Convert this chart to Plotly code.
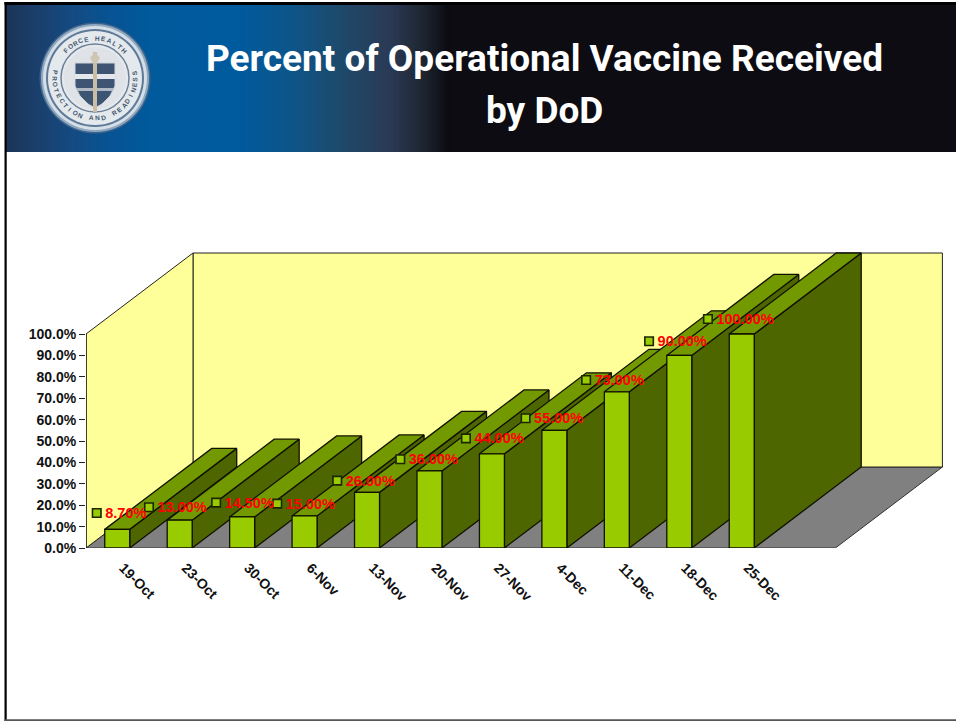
import math
import plotly.graph_objects as go

# ---- chart data ----
categories = ["19-Oct", "23-Oct", "30-Oct", "6-Nov", "13-Nov", "20-Nov",
              "27-Nov", "4-Dec", "11-Dec", "18-Dec", "25-Dec"]
values = [8.7, 13, 14.5, 15, 26, 36, 44, 55, 73, 90, 100]
value_labels = ["8.70%", "13.00%", "14.50%", "15.00%", "26.00%", "36.00%",
                "44.00%", "55.00%", "73.00%", "90.00%", "100.00%"]
y_ticks = [0, 10, 20, 30, 40, 50, 60, 70, 80, 90, 100]
y_tick_labels = ["0.0%", "10.0%", "20.0%", "30.0%", "40.0%", "50.0%",
                 "60.0%", "70.0%", "80.0%", "90.0%", "100.0%"]
title_lines = ["Percent of Operational Vaccine Received", "by DoD"]

# ---- layout constants ----
W, H = 956, 721
PLOT_L, PLOT_B, PLOT_T = 86, 548, 240
PX_PER_CAT = 62.45
PX_PER_PCT = 2.14
SLOTS = 12                     # the axis has one empty slot at the right
DEPTH_X = 107 / PX_PER_CAT     # oblique depth of the 3-D box, in axis units
DEPTH_Y = 81 / PX_PER_PCT
BAR_W = 0.4
# hand-placed data labels: shift from the bar's top-centre, in pixels
label_dx = [-20.5, -30.7, -26, -27.3, -29.8, -29.2, -26, -28.8, -30.7, -30.2, -33.8]
label_dy = [-16.4, -12.9, -14.3, -12.3, -11.7, -11.7, -15.5, -12, -11.8, -14.1, -15]
TEXT_GAP_X, TEXT_GAP_Y = 8.5, 1.5   # label text relative to its marker, pixels

FRONT, TOP, SIDE = "#99CC00", "#739900", "#4D6600"
WALL, FLOOR = "#FFFF99", "#808080"
EDGE = "#111100"
SANS = "Liberation Sans, Arial, sans-serif"
TITLE_FONT = "Roboto, Liberation Sans, Arial, sans-serif"

x0 = -0.5
x_span = (W - PLOT_L) / PX_PER_CAT
y_span = (PLOT_B - PLOT_T) / PX_PER_PCT
fig = go.Figure()


def poly(xs, ys, fill, edge=EDGE, lw=1.3):
    fig.add_trace(go.Scatter(x=xs + xs[:1], y=ys + ys[:1], mode="lines", fill="toself",
                             fillcolor=fill, line=dict(color=edge, width=lw),
                             hoverinfo="skip", showlegend=False, xaxis="x", yaxis="y"))


x_end = x0 + SLOTS
# floor, back wall, side wall
poly([x0, x_end, x_end + DEPTH_X, x0 + DEPTH_X], [0, 0, DEPTH_Y, DEPTH_Y], FLOOR, "#333333", 1)
poly([x0 + DEPTH_X, x_end + DEPTH_X, x_end + DEPTH_X, x0 + DEPTH_X],
     [DEPTH_Y, DEPTH_Y, 100 + DEPTH_Y, 100 + DEPTH_Y], WALL, "#222222", 1)
poly([x0, x0 + DEPTH_X, x0 + DEPTH_X, x0], [0, DEPTH_Y, 100 + DEPTH_Y, 100], WALL, "#222222", 1)

# side and top faces of each bar, painted left to right
for i, v in enumerate(values):
    l, r = i - BAR_W / 2, i + BAR_W / 2
    poly([r, r + DEPTH_X, r + DEPTH_X, r], [0, DEPTH_Y, v + DEPTH_Y, v], SIDE)
    poly([l, r, r + DEPTH_X, l + DEPTH_X], [v, v, v + DEPTH_Y, v + DEPTH_Y], TOP)

# value axis line
fig.add_trace(go.Scatter(x=[x0, x0], y=[0, 100], mode="lines", cliponaxis=False,
                         line=dict(color="#222222", width=1.5), hoverinfo="skip", showlegend=False))

# data markers
marker_x = [i + dx / PX_PER_CAT for i, dx in enumerate(label_dx)]
marker_y = [v - dy / PX_PER_PCT for v, dy in zip(values, label_dy)]
fig.add_trace(go.Scatter(
    x=marker_x, y=marker_y, mode="markers",
    marker=dict(symbol="square", size=8.5, color=FRONT, line=dict(color="#1c2600", width=1.6)),
    cliponaxis=False, hoverinfo="skip", showlegend=False))
# data labels
fig.add_trace(go.Scatter(
    x=[x + TEXT_GAP_X / PX_PER_CAT for x in marker_x],
    y=[y - TEXT_GAP_Y / PX_PER_PCT for y in marker_y],
    mode="text", text=value_labels, textposition="middle right",
    textfont=dict(family=SANS, size=14.5, color="#FF0000", weight="bold"),
    cliponaxis=False, hoverinfo="skip", showlegend=False))

# bar fronts (overlaid so they sit above every side face)
fig.add_trace(go.Bar(x=list(range(len(values))), y=values, width=BAR_W,
                     marker=dict(color=FRONT, line=dict(color=EDGE, width=1.3)),
                     hoverinfo="skip", showlegend=False, xaxis="x2", yaxis="y2"))


# ---- page furniture in page pixels ----
def px(x):
    return (x - PLOT_L) / (W - PLOT_L)


def py(y):
    return (PLOT_B - y) / (PLOT_B - PLOT_T)


shapes = []


def rect(x1, y1, x2, y2, color):
    shapes.append(dict(type="rect", xref="paper", yref="paper", x0=px(x1), x1=px(x2),
                       y0=py(y1), y1=py(y2), fillcolor=color, line=dict(width=0), layer="below"))


def circle(cx, cy, r, fill, edge=None, lw=0):
    shapes.append(dict(type="circle", xref="paper", yref="paper", x0=px(cx - r), x1=px(cx + r),
                       y0=py(cy + r), y1=py(cy - r), fillcolor=fill,
                       line=dict(width=lw, color=edge or fill), layer="below"))


def path(points, fill, edge=None, lw=0):
    d = "M " + " L ".join(f"{px(a):.5f},{py(b):.5f}" for a, b in points) + " Z"
    shapes.append(dict(type="path", xref="paper", yref="paper", path=d, fillcolor=fill,
                       line=dict(width=lw, color=edge or fill), layer="below"))


# header gradient
stops = [(6, (27, 52, 86)), (35, (27, 62, 106)), (70, (20, 74, 128)), (105, (8, 82, 146)),
         (150, (0, 90, 156)), (235, (0, 90, 158)), (290, (12, 85, 138)), (330, (26, 76, 112)),
         (390, (42, 58, 85)), (423, (30, 37, 48)), (450, (10, 10, 16)), (956, (12, 12, 18))]


def grad(x):
    for (a, ca), (b, cb) in zip(stops, stops[1:]):
        if a <= x <= b:
            t = (x - a) / (b - a)
            return "rgb(%d,%d,%d)" % tuple(round(p + (q - p) * t) for p, q in zip(ca, cb))
    return "rgb(12,12,18)"


for xs in range(6, 452, 3):
    rect(xs, 5, xs + 3.4, 152, grad(xs + 1.5))
rect(451, 5, W, 152, "rgb(12,12,18)")
# frame
rect(4.5, 2, W, 5, "#000000")
rect(4.5, 2, 6.7, H, "#000000")
rect(4.5, 719.3, W, H, "#555555")

# seal
CX, CY = 95, 78
circle(CX, CY, 55.5, "#3f648c")
circle(CX, CY, 54, "#8fa8c0")
circle(CX, CY, 52, "#d4dfe8")
circle(CX, CY, 49, "#5f7a98")
circle(CX, CY, 47, "#e4e9ee")
circle(CX, CY, 34, "#e4e9ee", "#6f8096", 1.5)
circle(CX, CY, 31, "#dfe3e7")
# shield
shield = [(75, 63), (115, 63), (115, 86), (110, 96), (102, 104), (95, 108),
          (88, 104), (80, 96), (75, 86)]
path(shield, "#3d5573", "#cfd6dc", 1)
rect(75, 74, 115, 79, "#e4e8ec")
rect(77, 88, 113, 91, "#aeb9c4")
rect(93, 52, 97, 112, "#c9bda6")
path([(95, 52), (100, 58), (97, 63), (93, 63), (90, 58)], "#cfc6b4")

annotations = []
for line, cy in zip(title_lines, (58, 110)):
    annotations.append(dict(text=line, x=px(544), y=py(cy), xref="paper", yref="paper",
                            xanchor="center", yanchor="middle", showarrow=False,
                            font=dict(family=TITLE_FONT, size=37, color="#FFFFFF", weight="bold")))


def ring_text(txt, start, step, r, flip):
    for k, ch in enumerate(txt):
        a = math.radians(start + k * step)
        annotations.append(dict(text=ch, x=px(CX + r * math.sin(a)), y=py(CY - r * math.cos(a)),
                                xref="paper", yref="paper", showarrow=False,
                                xanchor="center", yanchor="middle",
                                textangle=(math.degrees(a) + (180 if flip else 0)),
                                font=dict(family=SANS, size=6.5, color="#43546a", weight="bold")))


ring_text("FORCE HEALTH", -47, 8.5, 40, False)
ring_text("PROTECTION AND READINESS", 278, -8.5, 40, True)

fig.update_layout(
    width=W, height=H, autosize=False, template=None,
    margin=dict(l=PLOT_L, r=0, t=PLOT_T, b=H - PLOT_B, pad=0),
    paper_bgcolor="#FFFFFF", plot_bgcolor="rgba(0,0,0,0)",
    showlegend=False, barmode="overlay", shapes=shapes, annotations=annotations,
    xaxis=dict(range=[x0, x0 + x_span], showgrid=False, zeroline=False, showline=False,
               tickmode="array", tickvals=list(range(len(categories))), ticktext=categories,
               tickangle=45, ticks="", ticklabelstandoff=8, ticklabelshift=6,
               tickfont=dict(family=SANS, size=14, color="#111111", weight="bold")),
    yaxis=dict(range=[0, y_span], showgrid=False, zeroline=False, showline=False,
               tickmode="array", tickvals=y_ticks, ticktext=y_tick_labels,
               ticks="outside", ticklen=6, tickwidth=1.3, tickcolor="#222222",
               tickfont=dict(family=SANS, size=14, color="#111111", weight="bold")),
    xaxis2=dict(overlaying="x", matches="x", visible=False),
    yaxis2=dict(overlaying="y", matches="y", visible=False),
)

fig.write_html("out.html", config=dict(displayModeBar=False),
               post_script="document.body.style.margin='0';document.body.style.overflow='hidden';")
